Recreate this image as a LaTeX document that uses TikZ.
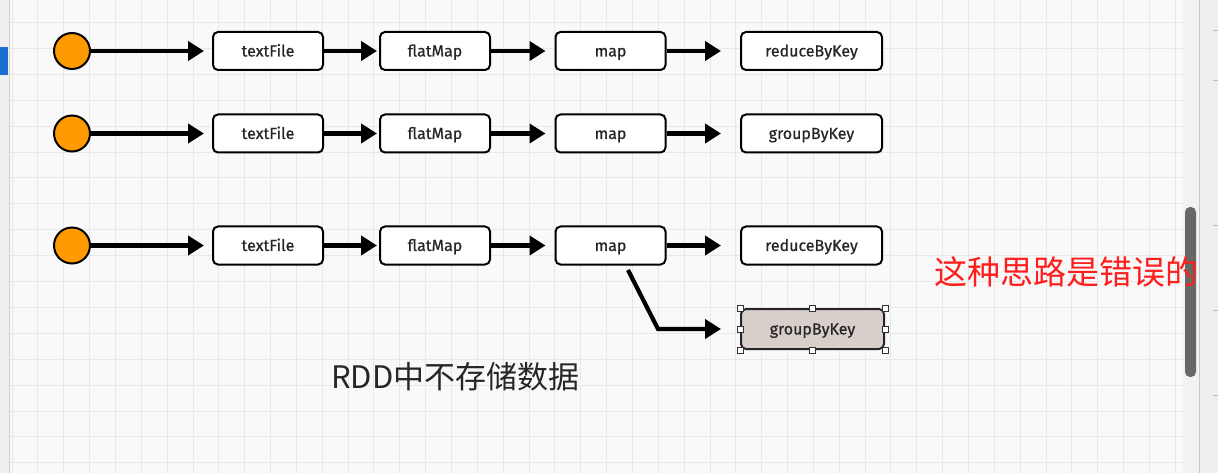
\documentclass[tikz,border=0pt]{standalone}
\usepackage{fontspec}
\setmainfont{Fira Sans}
\newfontfamily\boxfont[FakeBold=0.6]{Fira Sans}
\newfontfamily\cjk{Noto Sans CJK SC}
\usetikzlibrary{arrows.meta}
\definecolor{bgc}{HTML}{F8F9F8}
\definecolor{gridc}{HTML}{E7E8E7}
\definecolor{orangec}{HTML}{FF9A00}
\definecolor{selc}{HTML}{D8CFCB}
\definecolor{blueb}{HTML}{1B6FD3}
\definecolor{panelc}{HTML}{EEEFEE}
\definecolor{thumbc}{HTML}{666866}
\definecolor{redc}{HTML}{FF1E1E}
\tikzset{
  gridline/.style={draw=gridc, line width=0.9pt},
  opbox/.style={draw=black, line width=2pt, rounded corners=5pt, fill=white,
    minimum width=110pt, minimum height=38pt, inner sep=0pt,
    text height=12.5pt, text depth=1.5pt,
    font=\boxfont\fontsize{16}{18}\selectfont, text=black!85},
  widebox/.style={opbox, minimum width=141pt},
  selbox/.style={opbox, fill=selc, minimum width=143pt, minimum height=40pt, draw=black!85},
  startdot/.style={circle, draw=black, line width=2pt, fill=orangec, minimum size=36pt, inner sep=0pt},
  flow/.style={line width=4.2pt, -{Triangle[length=16pt,width=19pt]}},
  handle/.style={draw=black!80, fill=white, line width=0.8pt, minimum size=6pt, inner sep=0pt},
  bigtxt/.style={font=\cjk\fontsize{31}{33}\selectfont, text=black!85, inner sep=0pt, anchor=west},
  redtxt/.style={font=\cjk\fontsize{33}{35}\selectfont, text=redc, inner sep=0pt, anchor=west}
}
\begin{document}
\begin{tikzpicture}[x=1pt,y=-1pt]
\useasboundingbox (0,0) rectangle (1218,473);
\fill[bgc] (0,0) rectangle (1218,473);
% grid
\begin{scope}
\clip (10,0) rectangle (1183,473);
\foreach \i in {0,...,45} \draw[gridline] ({12+25.85*\i},0) -- ({12+25.85*\i},473);
\foreach \j in {0,...,18} \draw[gridline] (0,{-3.4+25.9*\j}) -- (1218,{-3.4+25.9*\j});
\end{scope}
% left strip
\fill[panelc] (0,0) rectangle (9,473);
\draw[black!18, line width=0.8pt] (9.5,0) -- (9.5,473);
\fill[blueb] (0,47) rectangle (8,75);
% right side
\fill[black!5] (1183,0) rectangle (1199,473);
\fill[panelc] (1199,0) rectangle (1218,473);
\draw[black!22, line width=1pt] (1199.5,0) -- (1199.5,473);
\foreach \yy in {30,80,225,310,395} \draw[black!25, line width=0.8pt] (1213,\yy) -- (1218,\yy);
\fill[thumbc, rounded corners=5pt] (1185,207) rectangle (1196,377);

% row 1
\node[startdot] (s1) at (72,51) {};
\node[opbox] (a1) at (268,51) {textFile};
\node[opbox] (b1) at (435,51) {flatMap};
\node[opbox] (c1) at (610.5,51) {map};
\node[widebox] (d1) at (811.5,51) {reduceByKey};
% row 2
\node[startdot] (s2) at (72,133.5) {};
\node[opbox] (a2) at (268,133.5) {textFile};
\node[opbox] (b2) at (435,133.5) {flatMap};
\node[opbox] (c2) at (610.5,133.5) {map};
\node[widebox] (d2) at (811.5,133.5) {groupByKey};
% row 3
\node[startdot] (s3) at (72,245.5) {};
\node[opbox] (a3) at (268,245.5) {textFile};
\node[opbox] (b3) at (435,245.5) {flatMap};
\node[opbox] (c3) at (610.5,245.5) {map};
\node[widebox] (d3) at (811.5,245.5) {reduceByKey};
\node[selbox] (g3) at (812.5,329) {groupByKey};
\foreach \p/\n in {north west/h1,north/h2,north east/h3,west/h4,east/h5,south west/h6,south/h7,south east/h8}
  \node[handle] (\n) at (g3.\p) {};

\foreach \r in {1,2,3}{
  \draw[flow, shorten >=8pt] (s\r) -- (a\r);
  \draw[flow, shorten >=2pt] (a\r) -- (b\r);
  \draw[flow, shorten >=9pt] (b\r) -- (c\r);
  \draw[flow, shorten >=19pt] (c\r) -- (d\r);
}
\coordinate (m3out) at ([shift={(17.5,4.5)}]c3.south);
\coordinate (bend) at (658,329);
\draw[flow, shorten >=19pt] (m3out) -- (bend) -- (g3.west);

\node[bigtxt] (note) at (331,377) {RDD中不存储数据};
\node[redtxt] (wrong) at (934,272) {这种思路是错误的};
\end{tikzpicture}
\end{document}
